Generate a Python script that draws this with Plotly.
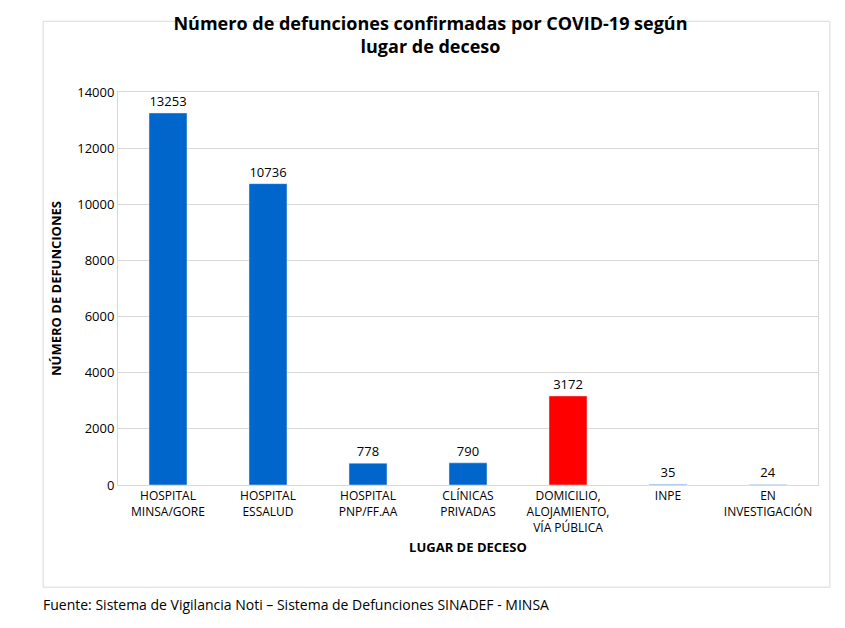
import plotly.graph_objects as go

lugares = ["HOSPITAL<br>MINSA/GORE", "HOSPITAL<br>ESSALUD", "HOSPITAL<br>PNP/FF.AA",
           "CLÍNICAS<br>PRIVADAS", "DOMICILIO,<br>ALOJAMIENTO,<br>VÍA PÚBLICA",
           "INPE", "EN<br>INVESTIGACIÓN"]
defunciones = [13253, 10736, 778, 790, 3172, 35, 24]
colores = ["#0066CC", "#0066CC", "#0066CC", "#0066CC", "#FF0000", "#8EB4E3", "#8EB4E3"]

fig = go.Figure(go.Bar(
    x=lugares, y=defunciones, marker_color=colores, width=0.38,
    text=[str(v) for v in defunciones], textposition="outside",
    textfont=dict(size=13, color="#000"), cliponaxis=False))

fig.update_layout(
    width=845, height=628, paper_bgcolor="white", plot_bgcolor="white",
    font=dict(family="Open Sans, Liberation Sans, sans-serif", color="#000"),
    margin=dict(l=110, r=35, t=84, b=151),
    showlegend=False,
    title=dict(text="<b>Número de defunciones confirmadas por COVID-19 según<br>lugar de deceso</b>",
               x=0.5, xanchor="center", y=0.965, yanchor="top", font=dict(size=18)),
    xaxis=dict(title=dict(text="<b>LUGAR DE DECESO</b>", font=dict(size=13), standoff=8),
               tickfont=dict(size=12), showline=True, linecolor="#d9d9d9",
               mirror=True),
    yaxis=dict(title=dict(text="<b>NÚMERO DE DEFUNCIONES</b>", font=dict(size=13), standoff=12),
               range=[0, 14000], dtick=2000, tickformat="d", tickfont=dict(size=13),
               gridcolor="#d9d9d9", showline=True, linecolor="#d9d9d9", mirror=True,
               zeroline=False),
    shapes=[dict(type="rect", xref="paper", yref="paper", x0=-0.107, x1=1.017,
                 y0=-0.26, y1=1.18, line=dict(color="#d9d9d9", width=1))],
    annotations=[dict(text="Fuente: Sistema de Vigilancia Noti – Sistema de Defunciones SINADEF - MINSA",
                      xref="paper", yref="paper", x=-0.11, y=-0.305, xanchor="left",
                      yanchor="middle", showarrow=False, font=dict(size=14))],
)

fig.write_html("out.html")
